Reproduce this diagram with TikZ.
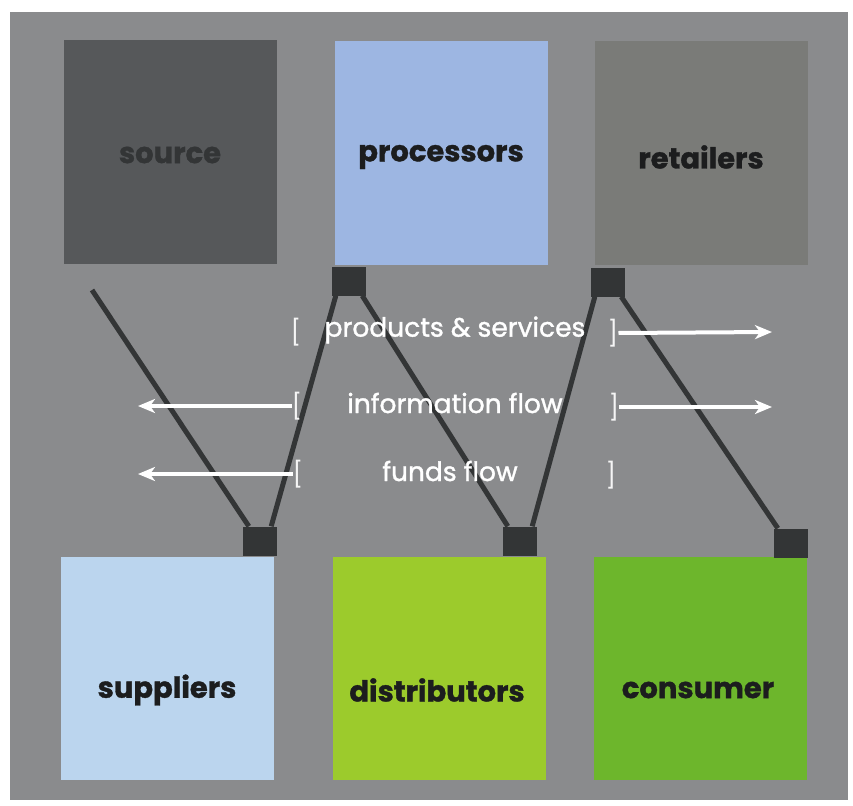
\documentclass[tikz,border=0pt]{standalone}
\usepackage{fontspec}
\setmainfont{Poppins}
\usetikzlibrary{arrows.meta}
\definecolor{bggray}{HTML}{8A8B8D}
\definecolor{srcgray}{HTML}{56585A}
\definecolor{procblue}{HTML}{9DB6E2}
\definecolor{retgray}{HTML}{7A7B78}
\definecolor{supblue}{HTML}{BBD5EE}
\definecolor{distgreen}{HTML}{9CCB2C}
\definecolor{consgreen}{HTML}{6DB62C}
\definecolor{darksq}{HTML}{333536}
\definecolor{labeltext}{HTML}{1C1D1E}
\tikzset{
  bigbox/.style={draw=none, minimum width=213pt, minimum height=223pt, inner sep=0pt},
  boxlabel/.style={font=\fontsize{29}{34}\selectfont\bfseries\addfontfeature{FakeBold=1.2}, text=labeltext, inner sep=0pt},
  joint/.style={fill=darksq, draw=none, minimum width=34pt, minimum height=29pt, inner sep=0pt},
  chain/.style={draw=darksq, line width=5pt},
  flowtext/.style={text=white, font=\fontsize{26.5}{30}\selectfont\addfontfeature{FakeBold=1.3}, inner sep=0pt},
  brk/.style={text=white!92!gray, font=\fontsize{25}{28}\selectfont, inner sep=0pt},
  flowarrow/.style={draw=white, line width=4pt, -{Stealth[length=17pt,width=14pt,inset=5pt]}}
}
\begin{document}
\begin{tikzpicture}[x=1pt,y=-1pt]
\useasboundingbox (0,0) rectangle (853,805);
\fill[white] (0,0) rectangle (853,805);
\fill[bggray] (10,12) rectangle (848,800);
% big boxes
\node[bigbox, fill=srcgray] (source) at (170,152) {};
\node[bigbox, fill=procblue] (proc) at (441,153) {};
\node[bigbox, fill=retgray] (ret) at (701,153) {};
\node[bigbox, fill=supblue] (sup) at (167,668) {};
\node[bigbox, fill=distgreen] (dist) at (439,668) {};
\node[bigbox, fill=consgreen] (cons) at (700,668) {};
% box labels
\node[boxlabel, text=darksq] (source-t) at (170,155) {source};
\node[boxlabel] (proc-t) at (441,157) {processors};
\node[boxlabel] (ret-t) at (701,157) {retailers};
\node[boxlabel] (sup-t) at (167,690) {suppliers};
\node[boxlabel] (dist-t) at (437,690) {distributors};
\node[boxlabel] (cons-t) at (698,690) {consumer};
% joints
\node[joint] (j1) at (349,281) {};
\node[joint] (j2) at (608,282) {};
\node[joint] (j3) at (260,541) {};
\node[joint] (j4) at (520,541) {};
\node[joint] (j5) at (791,543) {};
\coordinate (start) at (92,290);
% chain lines
\draw[chain] (start) -- ([xshift=6pt]j3.north west);
\draw[chain] ([xshift=-6pt]j3.north east) -- ([xshift=4pt]j1.south west);
\draw[chain] ([xshift=-4pt]j1.south east) -- ([xshift=5pt]j4.north west);
\draw[chain] ([xshift=-5pt]j4.north east) -- ([xshift=4pt]j2.south west);
\draw[chain] ([xshift=-4pt]j2.south east) -- ([xshift=4pt]j5.north west);
% flow labels
\node[flowtext] (t1) at (455,330) {products \& services};
\node[flowtext] (t2) at (455,403) {information flow};
\node[flowtext] (t3) at (450,471) {funds flow};
\node[brk] (l1) at (296,332) {[};
\node[brk] (r1) at (613,333) {]};
\node[brk] (l2) at (297,406) {[};
\node[brk] (r2) at (614,407) {]};
\node[brk] (l3) at (298,474) {[};
\node[brk] (r3) at (611,475) {]};
\coordinate (e1) at (772,332);
\coordinate (e2) at (772,407);
\coordinate (w2) at (138,406);
\coordinate (w3) at (138,474);
\draw[flowarrow] (r1.east) -- (e1);
\draw[flowarrow] (r2.east) -- (e2);
\draw[flowarrow] (l2.west) -- (w2);
\draw[flowarrow] (l3.west) -- (w3);
\end{tikzpicture}
\end{document}
